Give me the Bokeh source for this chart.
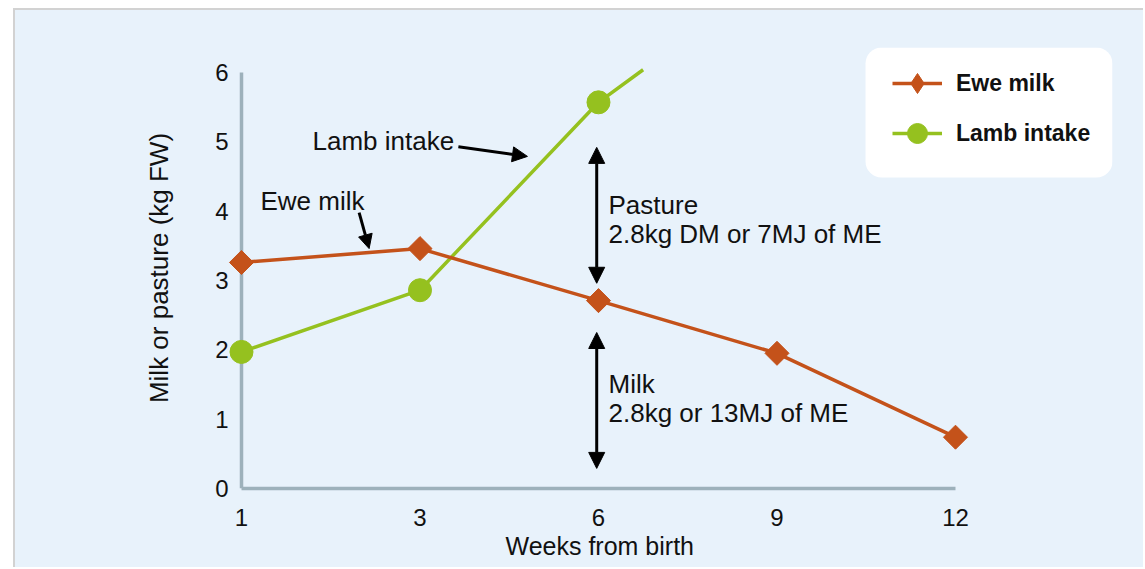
import numpy as np
from bokeh.plotting import figure
from bokeh.models import (Range1d, FixedTicker, Legend, LegendItem, Arrow, NormalHead, Label,
                          LinearAxis, BoxAnnotation, Title)
from bokeh.embed import file_html
from bokeh.resources import INLINE

# ---- data ----
tick_weeks = [1, 3, 6, 9, 12]
tick_labels = ["1", "3", "6", "9", "12"]
y_ticks = [0, 1, 2, 3, 4, 5, 6]

ewe_weeks = [1, 3, 6, 9, 12]
ewe_milk = [3.26, 3.46, 2.71, 1.95, 0.74]

lamb_weeks = [1, 3, 6, 6.75]
lamb_intake = [1.97, 2.86, 5.57, 6.04]
lamb_marker_weeks = [1, 3, 6]
lamb_marker_vals = [1.97, 2.86, 5.57]

series_names = ["Ewe milk", "Lamb intake"]
x_title = "Weeks from birth"
y_title = "Milk or pasture (kg FW)"

# annotation texts
txt_lamb = "Lamb intake"
txt_ewe = "Ewe milk"
txt_pasture = ["Pasture", "2.8kg DM or 7MJ of ME"]
txt_milk = ["Milk", "2.8kg or 13MJ of ME"]

# ---- styling ----
BG = "#e8f2fb"
ORANGE = "#c4521a"
GREEN = "#95c11f"
AXIS = "#9db1bb"
TXT = "#111111"
FONT = "Liberation Sans"

tick_pos = list(range(len(tick_weeks)))


def pos(w):
    return np.interp(w, tick_weeks, tick_pos)


p = figure(
    width=1130, height=559,
    output_backend="svg", toolbar_location=None,
    x_range=Range1d(-0.3025, 4.8796), y_range=Range1d(0, 6.3606),
    min_border_left=172, min_border_right=33, min_border_top=37, min_border_bottom=81,
    background_fill_color=BG, background_fill_alpha=0, border_fill_color=BG,
    border_fill_alpha=0, outline_line_color=None,
    margin=(8, 0, 0, 13),
    styles={"border-top": "2px solid #d2d2d2", "border-left": "2px solid #d2d2d2",
            "background-color": BG},
)
p.grid.visible = False

# y axis (labels only, at frame edge; labels pulled in toward x = 0)
ya = p.yaxis[0]
ya.ticker = FixedTicker(ticks=y_ticks)
ya.major_tick_line_color = None
ya.minor_tick_line_color = None
ya.axis_line_color = None
ya.major_label_text_font = FONT
ya.major_label_text_font_size = "24px"
ya.major_label_text_color = TXT
ya.major_label_standoff = -47
ya.axis_label = y_title
ya.axis_label_text_font = FONT
ya.axis_label_text_font_style = "normal"
ya.axis_label_text_font_size = "26px"
ya.axis_label_text_color = TXT
ya.axis_label_standoff = 38

# y axis line at x = 0 (drawn beneath the markers)
yline = LinearAxis(fixed_location=0, bounds=(0, 6), ticker=FixedTicker(ticks=[]),
                   axis_line_color=AXIS, axis_line_width=3.5,
                   major_tick_line_color=None, minor_tick_line_color=None,
                   major_label_text_alpha=0, level="underlay")
p.add_layout(yline, "left")

# x axis
xa = p.xaxis[0]
xa.bounds = (0, 4)
xa.ticker = FixedTicker(ticks=tick_pos)
xa.major_label_overrides = {i: lab for i, lab in zip(tick_pos, tick_labels)}
xa.major_tick_line_color = None
xa.minor_tick_line_color = None
xa.axis_line_color = AXIS
xa.axis_line_width = 3.5
xa.major_label_text_font = FONT
xa.major_label_text_font_size = "24px"
xa.major_label_text_color = TXT
xa.major_label_standoff = 14

# x axis title centred under the axis line
p.add_layout(Title(text=x_title, align="left", offset=318, standoff=2,
                   text_font=FONT, text_font_size="25px", text_font_style="normal",
                   text_color=TXT), "below")

# series
lamb_line = p.line(pos(lamb_weeks), lamb_intake, line_color=GREEN, line_width=3.5)
lamb_pts = p.scatter(pos(lamb_marker_weeks), lamb_marker_vals, marker="circle", size=23,
                     fill_color=GREEN, line_color=GREEN)
ewe_line = p.line(pos(ewe_weeks), ewe_milk, line_color=ORANGE, line_width=3.5)
ewe_pts = p.scatter(pos(ewe_weeks), ewe_milk, marker="square", angle=np.pi / 4, size=17,
                    fill_color=ORANGE, line_color=ORANGE)

# legend symbols (hidden renderers, shown only as legend keys)
ewe_key = p.scatter(pos(ewe_weeks), ewe_milk, marker="diamond", fill_color=ORANGE,
                    line_color=ORANGE, visible=False)
lamb_key = p.scatter(pos(lamb_marker_weeks), lamb_marker_vals, marker="circle",
                     fill_color=GREEN, line_color=GREEN, visible=False)

# annotations: arrows
def head(s):
    return NormalHead(size=s, fill_color="black", line_color="black", line_width=1)

p.add_layout(Arrow(x_start=1.215, y_start=4.93, x_end=1.602, y_end=4.79, end=head(15),
                   line_color="black", line_width=3))
p.add_layout(Arrow(x_start=0.659, y_start=3.98, x_end=0.715, y_end=3.46, end=head(14),
                   line_color="black", line_width=3))
p.add_layout(Arrow(x_start=1.99, y_start=2.96, x_end=1.99, y_end=4.92, start=head(16), end=head(16),
                   line_color="black", line_width=3))
p.add_layout(Arrow(x_start=1.99, y_start=0.29, x_end=1.99, y_end=2.25, start=head(16), end=head(16),
                   line_color="black", line_width=3))


def label(x, y, t):
    p.add_layout(Label(x=x, y=y, text=t, text_font=FONT, text_font_size="26px",
                       text_color=TXT, text_baseline="middle", text_align="left"))


label(0.398, 5.005, txt_lamb)
label(0.106, 4.14, txt_ewe)
label(2.056, 4.096, txt_pasture[0])
label(2.056, 3.664, txt_pasture[1])
label(2.056, 1.514, txt_milk[0])
label(2.056, 1.082, txt_milk[1])

# legend panel (white rounded box)
p.add_layout(BoxAnnotation(left=3.496, right=4.8796, bottom=4.486, top=6.3606,
                           fill_color="white", fill_alpha=1.0, line_color=None,
                           border_radius=16))

legend = Legend(
    items=[LegendItem(label=series_names[0], renderers=[ewe_line, ewe_key]),
           LegendItem(label=series_names[1], renderers=[lamb_line, lamb_key])],
    location=(705, 330), margin=0, padding=0, spacing=0,
    glyph_width=50, glyph_height=50, label_height=50, label_standoff=14,
    background_fill_alpha=0, border_line_color=None,
    label_text_font=FONT, label_text_font_style="bold", label_text_font_size="23px",
    label_text_color=TXT,
)
p.add_layout(legend)

open("out.html", "w").write(file_html(p, INLINE))
